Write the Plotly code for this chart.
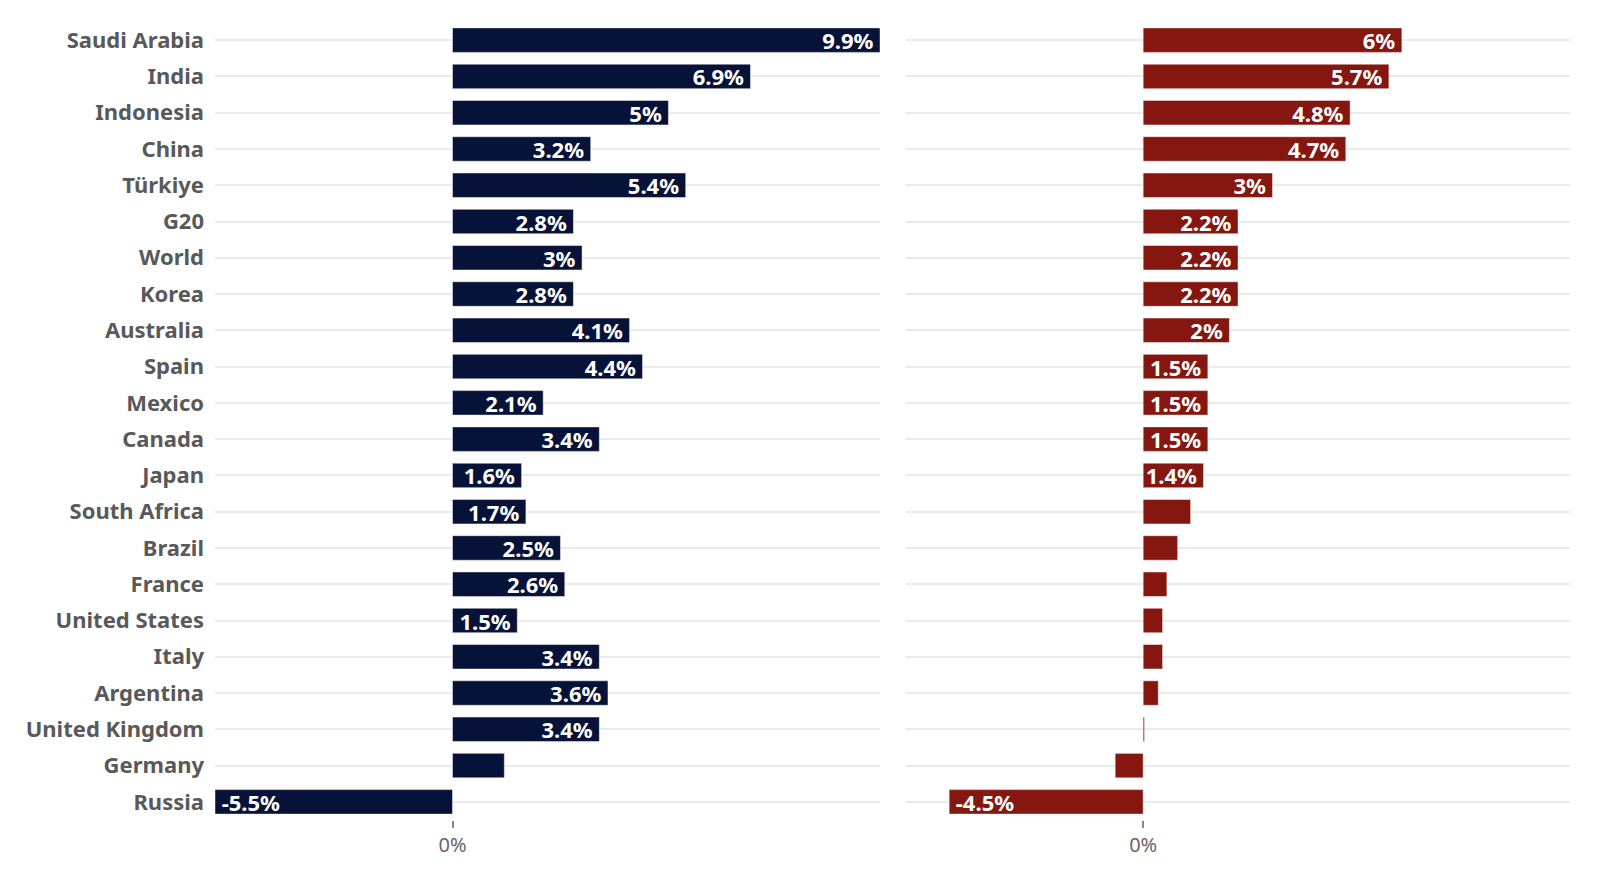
import plotly.graph_objects as go

countries = ["Saudi Arabia", "India", "Indonesia", "China", "Türkiye", "G20", "World",
             "Korea", "Australia", "Spain", "Mexico", "Canada", "Japan", "South Africa",
             "Brazil", "France", "United States", "Italy", "Argentina", "United Kingdom",
             "Germany", "Russia"]
left_values = [9.9, 6.9, 5, 3.2, 5.4, 2.8, 3, 2.8, 4.1, 4.4, 2.1, 3.4, 1.6, 1.7,
               2.5, 2.6, 1.5, 3.4, 3.6, 3.4, 1.2, -5.5]
right_values = [6, 5.7, 4.8, 4.7, 3, 2.2, 2.2, 2.2, 2, 1.5, 1.5, 1.5, 1.4, 1.1,
                0.8, 0.55, 0.45, 0.45, 0.35, 0.03, -0.65, -4.5]
x_range = [-5.5, 9.9]
label_min = 1.4

NAVY = "#071239"
RED = "#851710"
FONT = "Noto Sans"
PAD = "\u2009"


def labels(vals):
    out = []
    for v in vals:
        if abs(v) < label_min:
            out.append("")
        elif v >= 0:
            out.append(f"{v:g}%{PAD}")
        else:
            out.append(f"{PAD}{v:g}%")
    return out


fig = go.Figure()
for vals, color, xa, ya in [(left_values, NAVY, "x", "y"), (right_values, RED, "x2", "y2")]:
    fig.add_trace(go.Bar(
        x=vals, y=countries, orientation="h", xaxis=xa, yaxis=ya,
        marker=dict(color=color, line=dict(color="rgba(255,255,255,0.6)", width=0.8)),
        text=labels(vals), textposition="inside", insidetextanchor="end",
        textangle=0, constraintext="none",
        textfont=dict(family=FONT, size=22, color="white", weight="bold"),
        hoverinfo="x+y", showlegend=False,
    ))

common_x = dict(range=x_range, tickvals=[0], ticktext=["0%"], showgrid=False,
                zeroline=False, ticks="outside", ticklen=7, tickwidth=1.5,
                tickcolor="#888888", showline=False, automargin=False,
                tickfont=dict(family=FONT, size=20, color="#666666"))
common_y = dict(categoryorder="array", categoryarray=countries, autorange="reversed",
                showgrid=True, gridcolor="#ebebeb", gridwidth=2, zeroline=False,
                ticks="", showline=False, automargin=False)

fig.update_layout(
    width=1584, height=853,
    margin=dict(l=207, r=22, t=14, b=41),
    paper_bgcolor="white", plot_bgcolor="white",
    bargap=0.325,
    xaxis=dict(domain=[0, 0.4908], anchor="y", **common_x),
    xaxis2=dict(domain=[0.5100, 1], anchor="y2", **common_x),
    yaxis=dict(anchor="x", ticklabelstandoff=10,
               tickfont=dict(family=FONT, size=22, color="#595959", weight="bold"),
               **common_y),
    yaxis2=dict(anchor="x2", showticklabels=False, **common_y),
)

fig.write_html("out.html")
